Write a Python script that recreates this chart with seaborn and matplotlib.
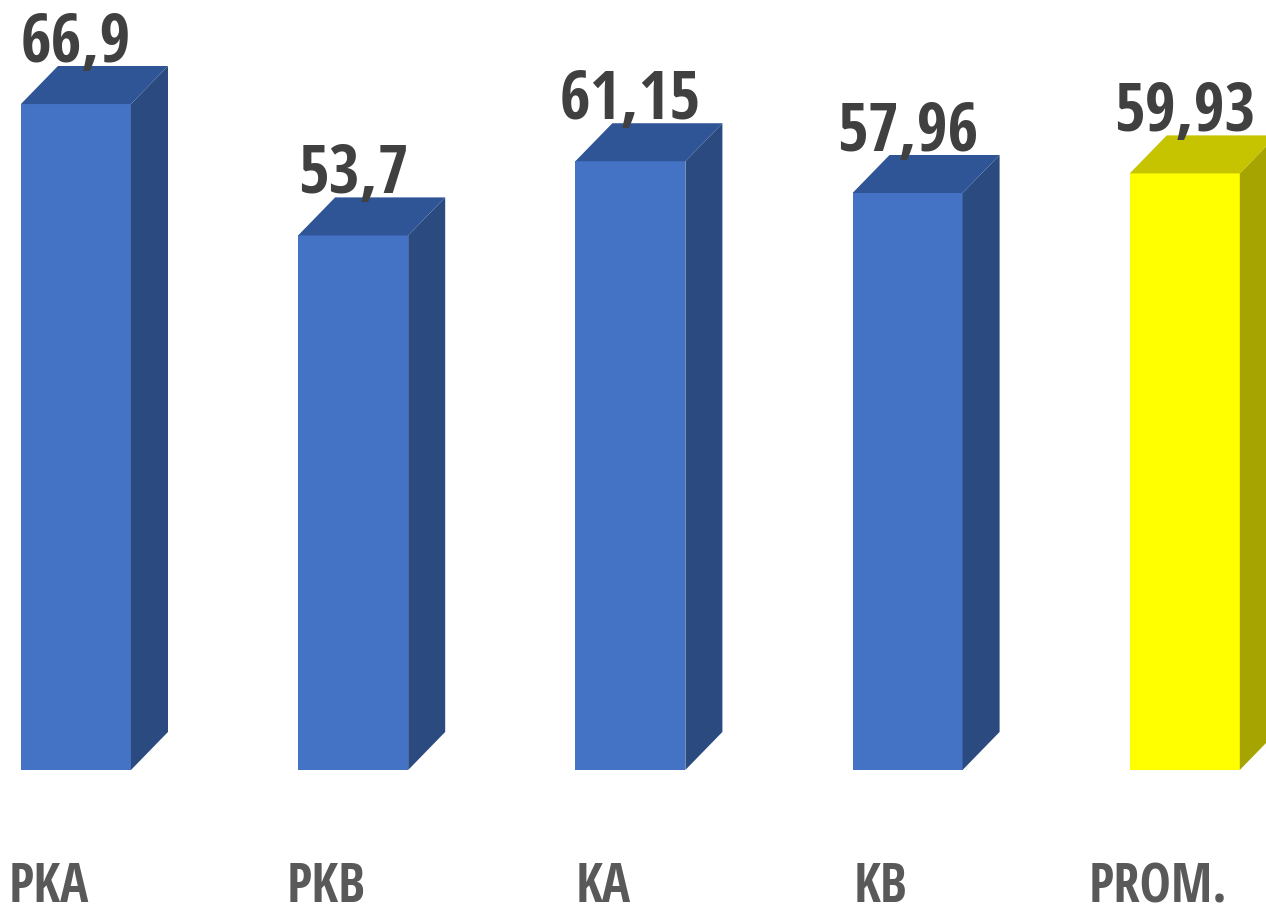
import matplotlib
matplotlib.use("Agg")
import matplotlib.pyplot as plt
import seaborn as sns
import pandas as pd
from matplotlib.patches import Polygon

categories = ["PKA", "PKB", "KA", "KB", "PROM."]
values = [66.9, 53.7, 61.15, 57.96, 59.93]
value_labels = ["66,9", "53,7", "61,15", "57,96", "59,93"]

front_colors = ["#4472C4", "#4472C4", "#4472C4", "#4472C4", "#FFFF00"]
top_colors = ["#2F5597", "#2F5597", "#2F5597", "#2F5597", "#C6C300"]
side_colors = ["#2A4A80", "#2A4A80", "#2A4A80", "#2A4A80", "#A6A400"]

sns.set_theme(style="white")
plt.rcParams["font.family"] = ["Open Sans Condensed", "Liberation Sans Narrow",
                               "Roboto Condensed", "Open Sans", "DejaVu Sans"]

df = pd.DataFrame({"cat": categories, "val": values})

fig = plt.figure(figsize=(12.66, 9.16), dpi=100)
ax = fig.add_axes([0, 0, 1, 1])
sns.barplot(data=df, x="cat", y="val", hue="cat", palette=front_colors,
            width=0.397, legend=False, ax=ax, linewidth=0, saturation=1)

ax.set_xlim(-0.274, 4.293)
ax.set_ylim(-14.67, 77.35)
ax.axis("off")

dx = 0.1335   # depth in x data units
dy = 3.82     # depth in y data units

for i, p in enumerate(ax.patches):
    x0 = p.get_x()
    w = p.get_width()
    h = p.get_height()
    x1 = x0 + w
    side = Polygon([(x1, 0), (x1 + dx, dy), (x1 + dx, h + dy), (x1, h)],
                   closed=True, facecolor=side_colors[i], edgecolor="none", zorder=1)
    top = Polygon([(x0, h), (x0 + dx, h + dy), (x1 + dx, h + dy), (x1, h)],
                  closed=True, facecolor=top_colors[i], edgecolor="none", zorder=1)
    ax.add_patch(side)
    ax.add_patch(top)
    cx = x0 + w / 2
    ax.text(cx, h + dy + 0.45, value_labels[i], ha="center", va="baseline",
            fontsize=48, fontweight="bold", color="#404040", zorder=5)
    ax.text(i - 0.097, -13.3, categories[i], ha="center", va="baseline",
            fontsize=38, fontweight="bold", color="#595959", zorder=5)

fig.savefig("out.png", dpi=100)
